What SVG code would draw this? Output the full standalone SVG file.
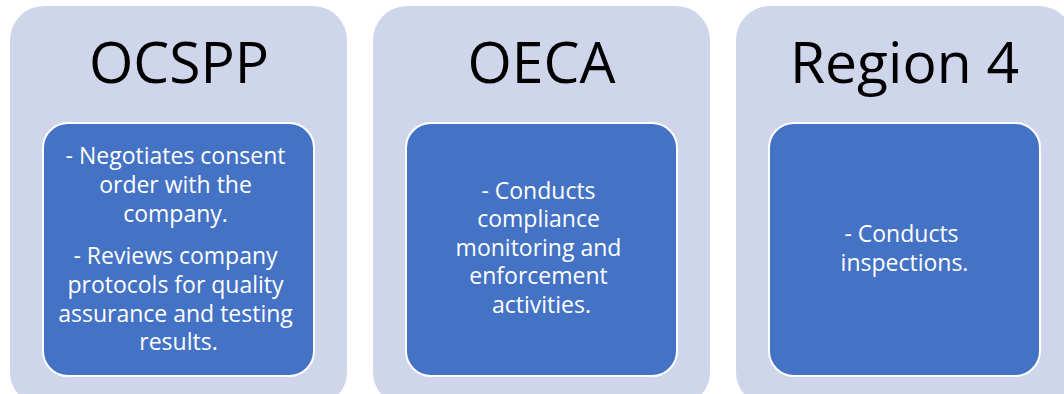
<svg xmlns="http://www.w3.org/2000/svg" width="1064" height="394" viewBox="0 0 1064 394">
<style>
.outer{fill:#CFD5EA;}
.inner{fill:#4472C4;stroke:#FFFFFF;stroke-width:2;}
.title{font-family:"Open Sans","Liberation Sans",sans-serif;font-size:57px;fill:#000000;text-anchor:middle;}
.body{font-family:"Open Sans","Liberation Sans",sans-serif;font-size:23px;fill:#FFFFFF;text-anchor:middle;}
</style>
<rect width="1064" height="394" fill="#FFFFFF"/>
<g id="node-ocspp">
<rect class="outer" x="10" y="6" width="337" height="400" rx="34" ry="34"/>
<text class="title" x="179" y="83">OCSPP</text>
<rect class="inner" x="43" y="123" width="271" height="253" rx="25" ry="25"/>
<text class="body">
<tspan x="178.5" y="164">- Negotiates consent</tspan>
<tspan x="178.5" y="193">order with the</tspan>
<tspan x="178.5" y="221.5">company.</tspan>
<tspan x="178.5" y="264">- Reviews company</tspan>
<tspan x="178.5" y="293">protocols for quality</tspan>
<tspan x="178.5" y="321.5">assurance and testing</tspan>
<tspan x="178.5" y="350">results.</tspan>
</text>
</g>
<g id="node-oeca">
<rect class="outer" x="373" y="6" width="337" height="400" rx="34" ry="34"/>
<text class="title" x="541.5" y="83">OECA</text>
<rect class="inner" x="406" y="123" width="271" height="253" rx="25" ry="25"/>
<text class="body">
<tspan x="541.5" y="198.5">- Conducts</tspan>
<tspan x="541.5" y="227">compliance</tspan>
<tspan x="541.5" y="255.5">monitoring and</tspan>
<tspan x="541.5" y="284">enforcement</tspan>
<tspan x="541.5" y="312.5">activities.</tspan>
</text>
</g>
<g id="node-region4">
<rect class="outer" x="736" y="6" width="337" height="400" rx="34" ry="34"/>
<text class="title" x="904.5" y="83">Region 4</text>
<rect class="inner" x="769" y="123" width="271" height="253" rx="25" ry="25"/>
<text class="body">
<tspan x="904.5" y="242">- Conducts</tspan>
<tspan x="904.5" y="270.5">inspections.</tspan>
</text>
</g>
<g id="connectors"></g>
</svg>
